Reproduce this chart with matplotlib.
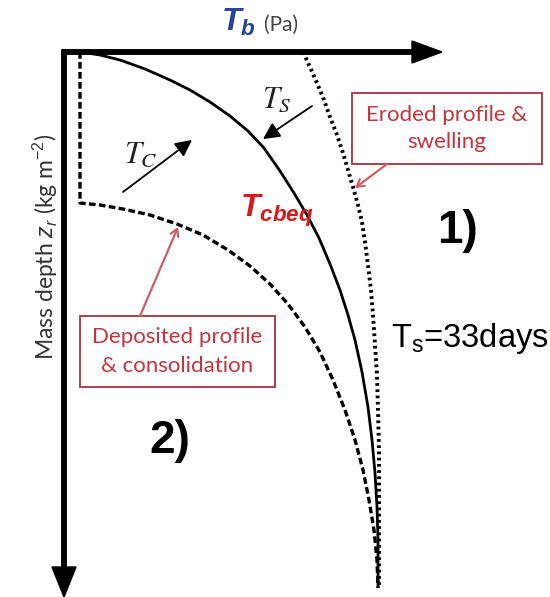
import matplotlib.pyplot as plt
from matplotlib.patches import Rectangle

plt.rcParams['mathtext.fontset'] = 'custom'
plt.rcParams['mathtext.rm'] = 'Liberation Sans'
plt.rcParams['mathtext.it'] = 'Liberation Sans:italic'
plt.rcParams['mathtext.bf'] = 'Liberation Sans:italic:bold'

# schematic profiles, tau_b (x) vs mass depth (y), origin at the axes corner
tau_eq = [16, 36, 56, 81, 106, 126, 146, 166, 184, 200, 216, 230, 243, 255,
          266, 276, 284, 291, 298, 304, 308, 311, 313, 314, 314]
z_eq = [0, 3, 8, 17, 28, 38, 50, 64, 79, 96, 119, 141, 163, 186,
        212, 238, 263, 288, 320, 355, 388, 421, 455, 488, 536]

tau_ero = [239, 246, 253, 260, 266, 273, 279, 284, 289, 294, 298, 301, 304,
           307, 309, 311, 313, 314, 315, 315, 315]
z_ero = [0, 15, 31, 48, 65, 83, 101, 118, 135, 153, 170, 190, 213,
         238, 263, 293, 323, 358, 398, 448, 536]

tau_dep = [16, 16, 36, 59, 86, 113, 139, 164, 186, 206, 224, 241, 256, 269,
           281, 291, 299, 305, 310, 313, 314]
z_dep = [0, 151, 153, 157, 163, 172, 183, 198, 214, 232, 252, 275, 300, 328,
         358, 388, 418, 448, 478, 508, 536]

box_ero = ['Eroded profile &', 'swelling']
box_dep = ['Deposited profile', '& consolidation']
ts_label = 'T$_\\mathregular{s}$=33days'

# where the axes corner sits in the picture (pixels)
X0, Z0 = 64, 52

fig = plt.figure(figsize=(5.5, 5.97), dpi=100)
ax = fig.add_axes([0, 0, 1, 1])
ax.set_xlim(0, 550)
ax.set_ylim(597, 0)
ax.axis('off')

red_txt = '#c4353f'
red_edge = '#a8323f'
pink = '#c8606c'

# axes with arrows
ax.arrow(X0 - 2, Z0, 380, 0, width=4.5, head_width=22, head_length=30,
         length_includes_head=True, fc='k', ec='k')
ax.arrow(X0, Z0 - 2, 0, 547, width=4.5, head_width=24, head_length=30,
         length_includes_head=True, fc='k', ec='k')

# profiles
ax.plot([X0 + t for t in tau_eq], [Z0 + z for z in z_eq], color='k', lw=2.0,
        solid_capstyle='butt')
ax.plot([X0 + t for t in tau_ero], [Z0 + z for z in z_ero], color='k', lw=2.8,
        linestyle=(0, (0.7, 0.9)))
ax.plot([X0 + t for t in tau_dep], [Z0 + z for z in z_dep], color='k', lw=2.4,
        linestyle=(0, (2.0, 1.0)))

# axis labels
ax.text(221, 31, r'$\mathbf{T_b}$', fontsize=23, color='#26429a', va='baseline')
ax.text(264, 31, '(Pa)', fontsize=15, family='Lato', color='#444444',
        va='baseline')
ax.text(45, 247, r'Mass depth $z_r$ (kg m$^{-2}$)', rotation=90, fontsize=16.5,
        family='Lato', color='#333333', ha='center', va='center')

# time-scale arrows
ax.annotate('', xy=(192, 140), xytext=(123, 192),
            arrowprops=dict(arrowstyle='-|>', color='k', lw=1.3,
                            mutation_scale=25, shrinkA=0, shrinkB=0))
ax.annotate('', xy=(263, 139), xytext=(312, 106),
            arrowprops=dict(arrowstyle='-|>', color='k', lw=1.3,
                            mutation_scale=25, shrinkA=0, shrinkB=0))
ax.text(124, 163, r'$T_C$', fontsize=22, math_fontfamily='stix',
        va='baseline', color='#222222')
ax.text(262, 108, r'$T_S$', fontsize=22, math_fontfamily='stix',
        va='baseline', color='#222222')

ax.text(240, 217, r'$\mathbf{T_{cbeq}}$', fontsize=23, color='#d7191c',
        va='baseline')

# annotation boxes
ax.add_patch(Rectangle((352, 93), 190, 71, fc='white', ec=red_edge, lw=1.3))
ax.text(447, 115, box_ero[0], fontsize=16, family='Lato', color=red_txt,
        ha='center', va='center')
ax.text(447, 142, box_ero[1], fontsize=16, family='Lato', color=red_txt,
        ha='center', va='center')
ax.annotate('', xy=(355, 188), xytext=(387, 164),
            arrowprops=dict(arrowstyle='->,head_length=0.5,head_width=0.3',
                            color=pink, lw=1.6, shrinkA=0, shrinkB=0))

ax.add_patch(Rectangle((80, 316), 195, 71, fc='white', ec=red_edge, lw=1.3))
ax.text(177, 337, box_dep[0], fontsize=16, family='Lato', color=red_txt,
        ha='center', va='center')
ax.text(177, 366, box_dep[1], fontsize=16, family='Lato', color=red_txt,
        ha='center', va='center')
ax.annotate('', xy=(178, 227), xytext=(140, 316),
            arrowprops=dict(arrowstyle='->,head_length=0.5,head_width=0.3',
                            color=pink, lw=1.6, shrinkA=0, shrinkB=0))

# regime labels
ax.text(457, 231, '1)', fontsize=33, family='Liberation Sans', weight='bold',
        ha='center', va='center')
ax.text(170, 441, '2)', fontsize=33, family='Liberation Sans', weight='bold',
        ha='center', va='center')
ax.text(391, 347, ts_label, fontsize=23.5, family='Liberation Sans',
        va='baseline')

fig.savefig('out.png', dpi=100)
